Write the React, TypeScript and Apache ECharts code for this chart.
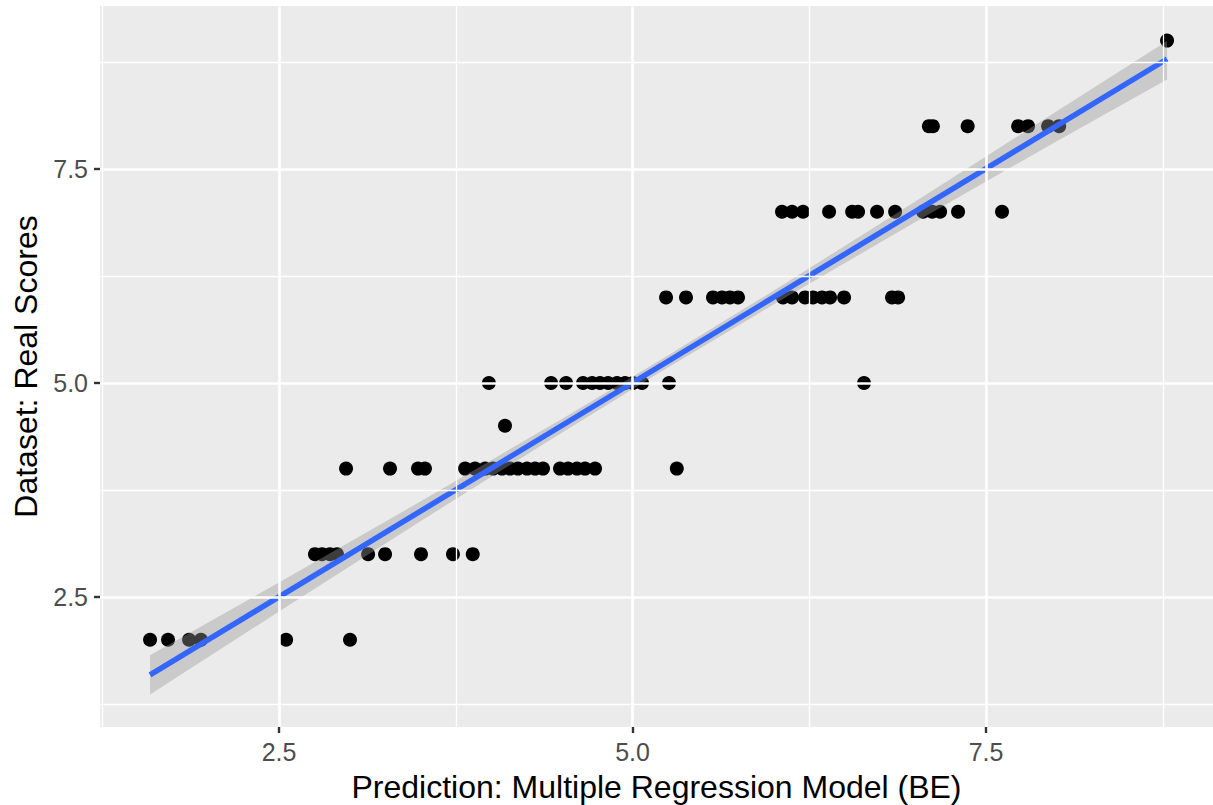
import React, { useEffect, useRef } from "react";
import * as echarts from "echarts";

// Scatter points, grouped by observed score (y value) -> predicted values (x)
const row2 = [1.588, 1.715, 1.864, 1.948, 2.55, 3.002];
const row3 = [2.754, 2.804, 2.86, 2.91, 3.13, 3.25, 3.504, 3.73, 3.87];
const row4 = [2.974, 3.285, 3.483, 3.532, 3.816, 3.886, 3.958, 4.014, 4.077, 4.134, 4.19, 4.254, 4.311, 4.367, 4.487, 4.544, 4.607, 4.664, 4.735, 5.313];
const row45 = [4.098];
const row5 = [3.984, 4.424, 4.53, 4.65, 4.714, 4.77, 4.827, 4.89, 4.947, 5.003, 5.067, 5.258, 6.637];
const row6 = [5.237, 5.378, 5.569, 5.633, 5.689, 5.746, 6.064, 6.128, 6.22, 6.276, 6.34, 6.397, 6.496, 6.835, 6.878];
const row7 = [6.057, 6.128, 6.206, 6.39, 6.553, 6.595, 6.729, 6.857, 7.055, 7.119, 7.175, 7.302, 7.613];
const row8 = [7.096, 7.124, 7.37, 7.727, 7.797, 7.939, 8.017];
const row9 = [8.78];
const rows: [number, number[]][] = [
  [2, row2], [3, row3], [4, row4], [4.5, row45], [5, row5],
  [6, row6], [7, row7], [8, row8], [9, row9],
];

// Fitted regression line (endpoints)
const lineX = [1.588, 8.78];
const lineY = [1.589, 8.785];

// Confidence ribbon
const bandX = [1.588, 2.5, 3.5, 4.5, 5.2, 6.0, 7.0, 8.0, 8.78];
const bandLower = [1.36, 2.33, 3.385, 4.42, 5.13, 5.92, 6.88, 7.825, 8.545];
const bandUpper = [1.82, 2.67, 3.615, 4.58, 5.27, 6.08, 7.12, 8.175, 8.995];

// Axes
const xMajor = [2.5, 5.0, 7.5];
const xMinor = [1.25, 3.75, 6.25, 8.75];
const yMajor = [2.5, 5.0, 7.5];
const yMinor = [1.25, 3.75, 6.25, 8.75];
const xRange = [1.234, 9.105];
const yRange = [0.981, 9.404];

const xTitle = "Prediction: Multiple Regression Model (BE)";
const yTitle = "Dataset: Real Scores";

export default function App() {
  const ref = useRef<HTMLDivElement>(null);
  useEffect(() => {
    if (!ref.current) return;
    const chart = echarts.init(ref.current, null, { renderer: "svg" });
    const points: number[][] = [];
    rows.forEach(([y, xs]) => xs.forEach((x) => points.push([x, y])));
    const font = "'Liberation Sans', Arial, Helvetica, sans-serif";
    const gridLines = [
      ...xMajor.map((v) => ({ xAxis: v, lineStyle: { width: 2.6 } })),
      ...xMinor.map((v) => ({ xAxis: v, lineStyle: { width: 1.3 } })),
      ...yMajor.map((v) => ({ yAxis: v, lineStyle: { width: 2.6 } })),
      ...yMinor.map((v) => ({ yAxis: v, lineStyle: { width: 1.3 } })),
    ];
    const option: any = {
      animation: false,
      backgroundColor: "#ffffff",
      textStyle: { fontFamily: font },
      grid: {
        left: 100,
        right: 0,
        top: 6,
        bottom: 78,
        show: true,
        backgroundColor: "#EBEBEB",
        borderWidth: 0,
        containLabel: false,
        outerBoundsMode: "none",
      },
      xAxis: {
        type: "value",
        min: xRange[0],
        max: xRange[1],
        splitLine: { show: false },
        axisLine: { show: false },
        axisTick: {
          show: true,
          customValues: xMajor,
          length: 6,
          lineStyle: { color: "#333333", width: 2.4 },
        },
        axisLabel: {
          customValues: xMajor,
          formatter: (v: number) => v.toFixed(1),
          color: "#4D4D4D",
          fontSize: 25,
          margin: 12,
          fontFamily: font,
        },
        name: xTitle,
        nameLocation: "middle",
        nameGap: 44,
        nameTextStyle: { color: "#000000", fontSize: 32, fontFamily: font },
      },
      yAxis: {
        type: "value",
        min: yRange[0],
        max: yRange[1],
        splitLine: { show: false },
        axisLine: { show: false },
        axisTick: {
          show: true,
          customValues: yMajor,
          length: 6,
          lineStyle: { color: "#333333", width: 2.4 },
        },
        axisLabel: {
          customValues: yMajor,
          formatter: (v: number) => v.toFixed(1),
          color: "#4D4D4D",
          fontSize: 25,
          margin: 12,
          fontFamily: font,
        },
        name: yTitle,
        nameLocation: "middle",
        nameGap: 54,
        nameTextStyle: { color: "#000000", fontSize: 32, fontFamily: font },
      },
      series: [
        {
          type: "scatter",
          data: [],
          z: 1,
          silent: true,
          markLine: {
            silent: true,
            symbol: ["none", "none"],
            label: { show: false },
            lineStyle: { color: "#FFFFFF", type: "solid" },
            emphasis: { disabled: true },
            data: gridLines,
          },
        },
        {
          type: "scatter",
          data: points,
          symbol: "circle",
          symbolSize: 14,
          itemStyle: { color: "#000000", opacity: 1 },
          z: 2,
          silent: true,
        },
        {
          type: "custom",
          z: 3,
          silent: true,
          data: [[bandX[0], bandLower[0]]],
          renderItem: (params: any, api: any) => {
            const pts: number[][] = [];
            bandX.forEach((x, i) => pts.push(api.coord([x, bandUpper[i]])));
            for (let i = bandX.length - 1; i >= 0; i--) pts.push(api.coord([bandX[i], bandLower[i]]));
            return {
              type: "polygon",
              shape: { points: pts },
              style: { fill: "rgba(153,153,153,0.4)", stroke: "none" },
            };
          },
        },
        {
          type: "line",
          z: 4,
          silent: true,
          data: lineX.map((x, i) => [x, lineY[i]]),
          showSymbol: false,
          symbol: "none",
          lineStyle: { color: "#3366FF", width: 5.5 },
        },
      ],
    };
    chart.setOption(option);
    return () => chart.dispose();
  }, []);
  return (
    <div
      ref={ref}
      style={{ position: "fixed", left: 0, top: 0, width: 1213, height: 805, background: "#fff" }}
    />
  );
}
